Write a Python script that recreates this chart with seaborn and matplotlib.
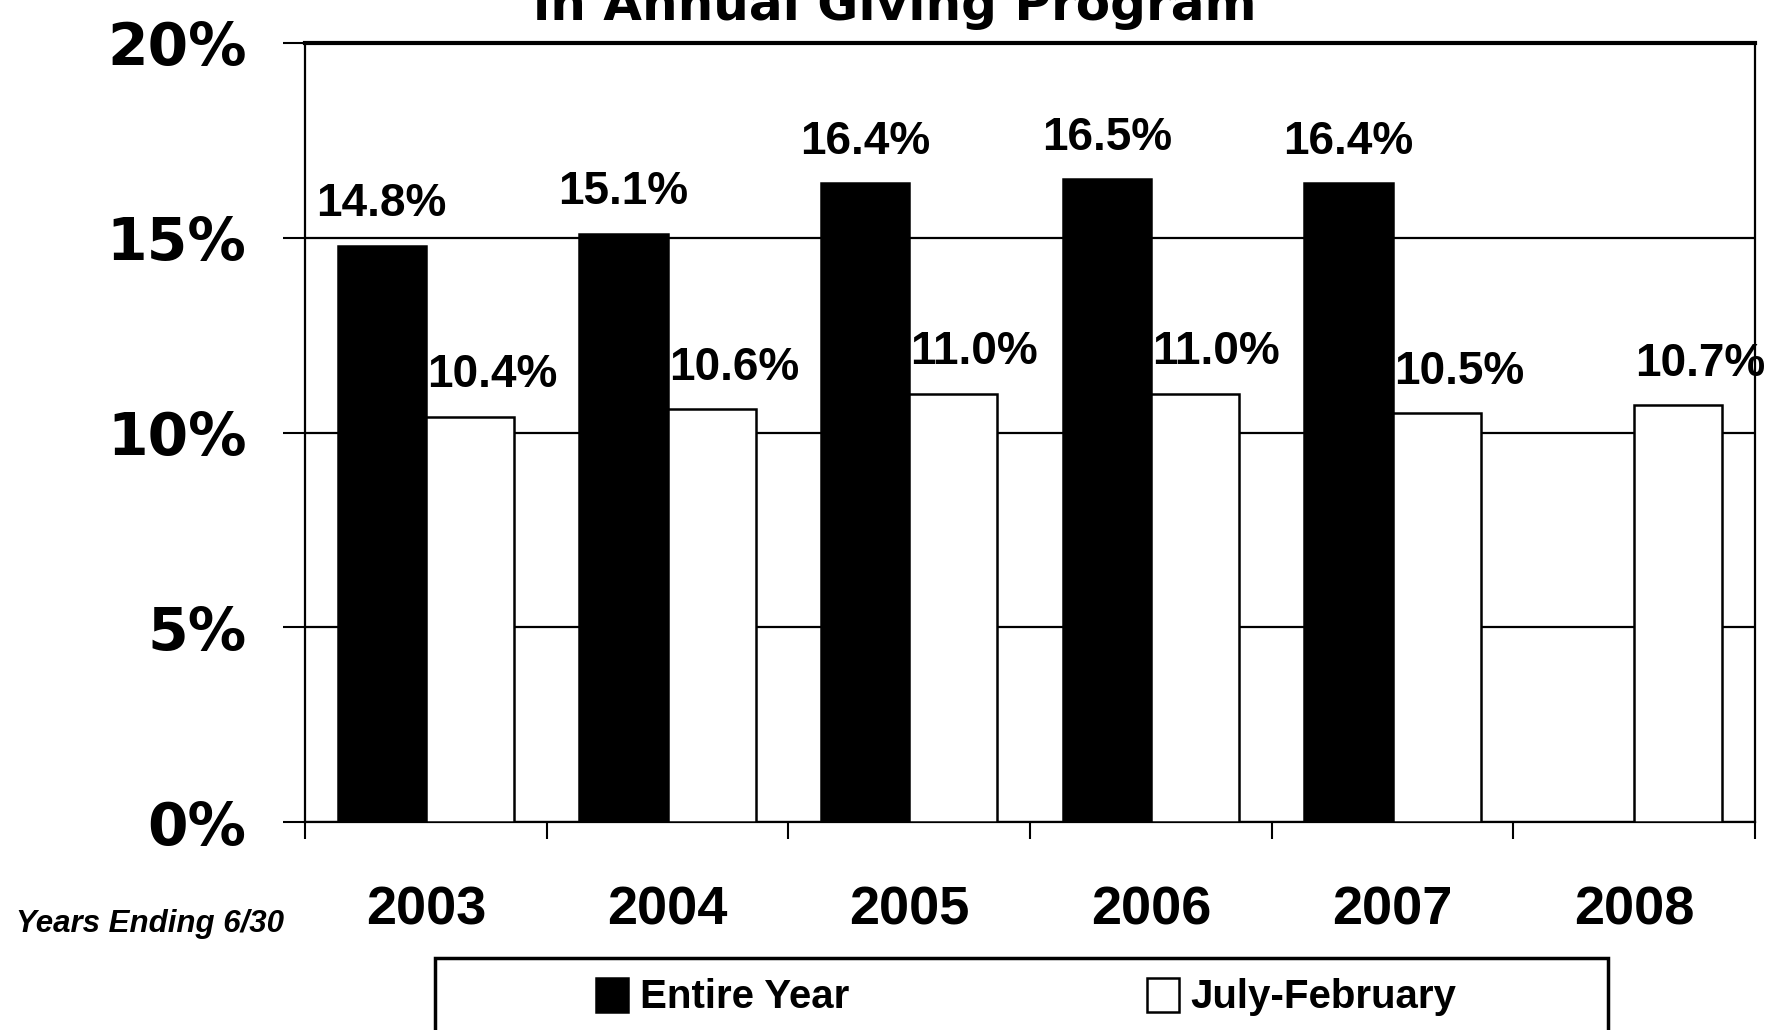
import numpy as np
import pandas as pd
import matplotlib
matplotlib.use("Agg")
import matplotlib.pyplot as plt
import seaborn as sns
from matplotlib.patches import Rectangle

years = ["2003", "2004", "2005", "2006", "2007", "2008"]
entire_year = [14.8, 15.1, 16.4, 16.5, 16.4, np.nan]
july_february = [10.4, 10.6, 11.0, 11.0, 10.5, 10.7]
series_names = ["Entire Year", "July-February"]
y_ticks = [0, 5, 10, 15, 20]
y_tick_labels = ["0%", "5%", "10%", "15%", "20%"]
title_text = "in Annual Giving Program"
x_caption = "Years Ending 6/30"

df = pd.DataFrame({
    "year": years * 2,
    "value": entire_year + july_february,
    "series": [series_names[0]] * len(years) + [series_names[1]] * len(years),
})

sns.set_theme(style="white", rc={"text.color": "black", "axes.labelcolor": "black",
                                 "xtick.color": "black", "ytick.color": "black",
                                 "axes.edgecolor": "black"})
NARROW = ["Liberation Sans", "DejaVu Sans"]
plt.rcParams["font.family"] = ["DejaVu Sans"]

fig = plt.figure(figsize=(17.72, 10.30), dpi=100)
ax = fig.add_axes([305 / 1772, 1 - 822 / 1030, (1755 - 305) / 1772, (822 - 43) / 1030])

sns.barplot(data=df, x="year", y="value", hue="series", order=years,
            hue_order=series_names, palette=["black", "white"],
            edgecolor="black", linewidth=1.8, width=0.73, gap=0,
            errorbar=None, ax=ax, zorder=3)

handles, labels = ax.get_legend_handles_labels()
if ax.get_legend() is not None:
    ax.get_legend().remove()

ax.set_ylim(0, 20)
ax.set_xlim(-0.5, len(years) - 0.5)
ax.set_yticks(y_ticks)
ax.set_yticklabels(y_tick_labels, fontsize=42, fontweight="bold", family="DejaVu Sans")
ax.tick_params(axis="y", direction="out", length=16, width=1.5, color="black",
               labelcolor="black", pad=26, left=True)

ax.set_xticks(range(len(years)))
ax.set_xticklabels(years, fontsize=39, fontweight="bold", family=NARROW)
ax.tick_params(axis="x", which="major", length=0, pad=46, labelcolor="black")
ax.set_xticks(np.arange(-0.5, len(years), 1.0), minor=True)
ax.tick_params(axis="x", which="minor", direction="out", length=12, width=1.5,
               color="black", bottom=True)

ax.set_xlabel("")
ax.set_ylabel("")
ax.set_axisbelow(True)
ax.yaxis.grid(True, color="black", linewidth=1.6, zorder=0)
ax.xaxis.grid(False)
for side in ["left", "right", "bottom"]:
    ax.spines[side].set_visible(True)
    ax.spines[side].set_color("black")
    ax.spines[side].set_linewidth(1.6)
ax.spines["top"].set_color("black")
ax.spines["top"].set_linewidth(3)

# value labels: Entire Year centred over its bar, July-February starting at the bar's left edge
for ci, cont in enumerate(ax.containers):
    for patch, v in zip(cont.patches, cont.datavalues):
        if np.isnan(v):
            continue
        if ci == 0:
            xy = (patch.get_x() + patch.get_width() / 2, patch.get_height())
            ha, dx = "center", 0
        else:
            xy = (patch.get_x(), patch.get_height())
            ha, dx = "left", 1
        ax.annotate(f"{v:.1f}%", xy=xy, xytext=(dx, 14), textcoords="offset points",
                    ha=ha, va="bottom", fontsize=33, fontweight="bold",
                    family=NARROW, color="black", zorder=6, annotation_clip=False)

fig.text(0.505, 1 - 20 / 1030, title_text, ha="center", va="baseline",
         fontsize=36, fontweight="bold", color="black")
fig.text(16 / 1772, 1 - 924 / 1030, x_caption, ha="left", va="center",
         fontsize=22.5, fontweight="bold", fontstyle="italic", family=NARROW, color="black")

# legend box (bottom cut off by the figure edge)
fig.patches.append(Rectangle((435 / 1772, -0.05), (1608 - 435) / 1772, 0.05 + 1 - 958 / 1030,
                             transform=fig.transFigure, facecolor="none",
                             edgecolor="black", linewidth=2.5, zorder=0))
leg = ax.legend(handles, labels, loc="center left",
                bbox_to_anchor=(596 / 1772, 1 - 997 / 1030), bbox_transform=fig.transFigure,
                ncol=2, frameon=False, borderpad=0, borderaxespad=0,
                columnspacing=7.4, handlelength=0.8, handleheight=0.92, handletextpad=0.28,
                prop={"family": NARROW, "weight": "bold", "size": 29})
for t in leg.get_texts():
    t.set_color("black")

fig.savefig("out.png", dpi=100, facecolor="white")
